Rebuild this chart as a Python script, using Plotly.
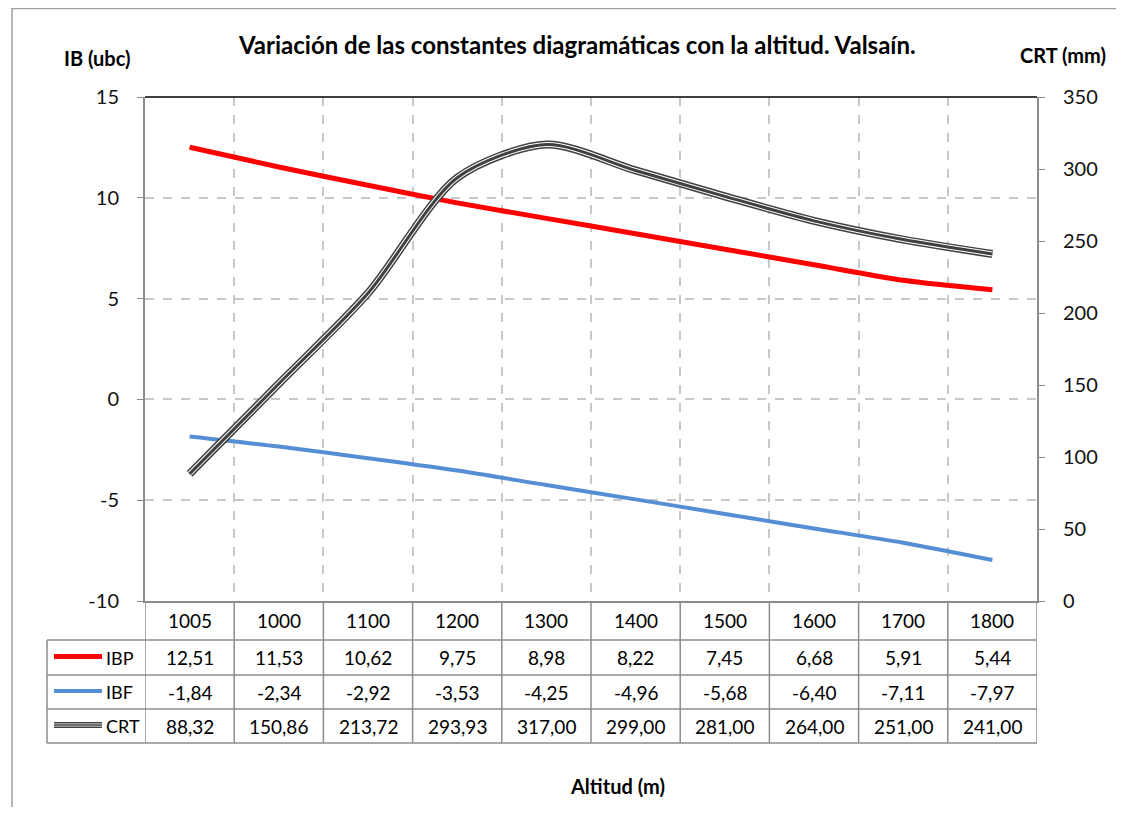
import plotly.graph_objects as go

# datos
altitudes = ["1005", "1000", "1100", "1200", "1300", "1400", "1500", "1600", "1700", "1800"]
ibp = [12.51, 11.53, 10.62, 9.75, 8.98, 8.22, 7.45, 6.68, 5.91, 5.44]
ibf = [-1.84, -2.34, -2.92, -3.53, -4.25, -4.96, -5.68, -6.40, -7.11, -7.97]
crt = [88.32, 150.86, 213.72, 293.93, 317.00, 299.00, 281.00, 264.00, 251.00, 241.00]
ib_ticks = [-10, -5, 0, 5, 10, 15]
ib_ticktext = ["-10", "-5", "0", "5", "10", "15"]

FONT = "Lato"
GRIS = "#8c8c8c"
OSCURO = "#404040"

# la pagina deja 8px de margen en el body; coordenadas de pantalla -> figura
OFF = 8
W, H = 1124 - 2 * OFF, 815 - 2 * OFF
L, R, T, B = 145, 1037, 97, 601  # area del grafico en pantalla


def py(p):
    return (B - p) / (B - T)


def px_(p):
    return (p - L) / (R - L)


xs = [i + 0.5 for i in range(len(altitudes))]

fig = go.Figure()

fig.add_trace(go.Scatter(
    x=xs, y=ibp, mode="lines", name="IBP",
    line=dict(color="#ff0000", width=5, shape="spline", smoothing=0.8),
))
fig.add_trace(go.Scatter(
    x=xs, y=ibf, mode="lines", name="IBF",
    line=dict(color="#558ed5", width=4, shape="spline", smoothing=0.8),
))
# CRT doble linea
for w, c in [(8, OSCURO), (5, "white"), (3, OSCURO)]:
    fig.add_trace(go.Scatter(
        x=xs, y=crt, mode="lines", name="CRT", yaxis="y2",
        line=dict(color=c, width=w, shape="spline", smoothing=0.8),
    ))

shapes = []
annotations = []

# borde exterior
shapes.append(dict(type="rect", xref="paper", yref="paper",
                   x0=px_(12), x1=px_(1300), y0=py(1000), y1=py(8.5),
                   line=dict(color="#a0a0a0", width=1.5)))
# linea superior del grafico
shapes.append(dict(type="line", xref="paper", yref="paper",
                   x0=0, x1=1, y0=1, y1=1, line=dict(color="#000000", width=1.5)))

# tabla de datos
row_lines = [640, 675, 709, 743]
for yy in row_lines:
    shapes.append(dict(type="line", xref="paper", yref="paper",
                       x0=px_(47), x1=1, y0=py(yy), y1=py(yy),
                       line=dict(color=GRIS, width=1.5)))
for k in range(len(altitudes) + 1):
    shapes.append(dict(type="line", xref="x", yref="paper",
                       x0=k, x1=k, y0=0, y1=py(743),
                       line=dict(color=GRIS, width=1.5)))
shapes.append(dict(type="line", xref="paper", yref="paper",
                   x0=px_(47), x1=px_(47), y0=py(640), y1=py(743),
                   line=dict(color=GRIS, width=1.5)))

rows = [("IBP", ibp), ("IBF", ibf), ("CRT", crt)]
row_centers = [620, 657.5, 692, 726]
cell_font = dict(family=FONT, size=19, color="#000")
for i, a in enumerate(altitudes):
    annotations.append(dict(x=xs[i], y=py(row_centers[0]), xref="x", yref="paper",
                            text=a, showarrow=False, yanchor="middle", font=cell_font))
for r, (name, vals) in enumerate(rows):
    yc = py(row_centers[r + 1])
    for i, v in enumerate(vals):
        annotations.append(dict(x=xs[i], y=yc, xref="x", yref="paper",
                                text=f"{v:.2f}".replace(".", ","), showarrow=False,
                                yanchor="middle", font=cell_font))
    annotations.append(dict(x=px_(104), y=yc, xref="paper", yref="paper",
                            text=name, showarrow=False, xanchor="left", yanchor="middle",
                            font=dict(family=FONT, size=18, color="#000")))

# simbolos de leyenda
ly = [py(c - 1) for c in row_centers[1:]]
shapes.append(dict(type="line", xref="paper", yref="paper", x0=px_(54), x1=px_(102),
                   y0=ly[0], y1=ly[0], line=dict(color="#ff0000", width=5)))
shapes.append(dict(type="line", xref="paper", yref="paper", x0=px_(54), x1=px_(102),
                   y0=ly[1], y1=ly[1], line=dict(color="#558ed5", width=4)))
for w, c in [(6, OSCURO), (3, "white"), (1.5, OSCURO)]:
    shapes.append(dict(type="line", xref="paper", yref="paper", x0=px_(54), x1=px_(102),
                       y0=ly[2], y1=ly[2], line=dict(color=c, width=w)))

# titulos
titulos = [
    ("<b>Variación de las constantes diagramáticas con la altitud. Valsaín.</b>", 577, 45, 24),
    ("<b>IB (ubc)</b>", 97, 58, 20),
    ("<b>CRT (mm)</b>", 1063, 55, 20),
    ("<b>Altitud (m)</b>", 617, 786, 20),
]
for txt, tx, ty, sz in titulos:
    annotations.append(dict(x=px_(tx), y=py(ty), xref="paper", yref="paper", showarrow=False,
                            text=txt, xanchor="center", yanchor="middle",
                            font=dict(family=FONT, size=sz, color="#000")))

fig.update_layout(
    width=W, height=H,
    margin=dict(l=L - OFF, r=(W + OFF) - R, t=T - OFF, b=(H + OFF) - B),
    paper_bgcolor="white", plot_bgcolor="white",
    showlegend=False,
    font=dict(family=FONT, size=20, color="#111"),
    xaxis=dict(range=[0, 10], tickvals=list(range(11)), showticklabels=False, ticks="",
               showgrid=True, gridcolor="#c8c8c8", griddash="dash", gridwidth=1.5,
               showline=True, linecolor=GRIS, linewidth=1.5, zeroline=False),
    yaxis=dict(range=[-10, 15], tickvals=ib_ticks, ticktext=ib_ticktext,
               showgrid=True, gridcolor="#c8c8c8",
               griddash="dash", gridwidth=1.5, zeroline=False,
               showline=True, linecolor=GRIS, linewidth=2,
               ticks="outside", ticklen=6, tickcolor=GRIS, ticklabelstandoff=14),
    yaxis2=dict(range=[0, 350], dtick=50, overlaying="y", side="right",
                showgrid=False, zeroline=False,
                showline=True, linecolor=GRIS, linewidth=2,
                ticks="outside", ticklen=6, tickcolor=GRIS, ticklabelstandoff=14),
    shapes=shapes,
    annotations=annotations,
)

fig.write_html("out.html")
